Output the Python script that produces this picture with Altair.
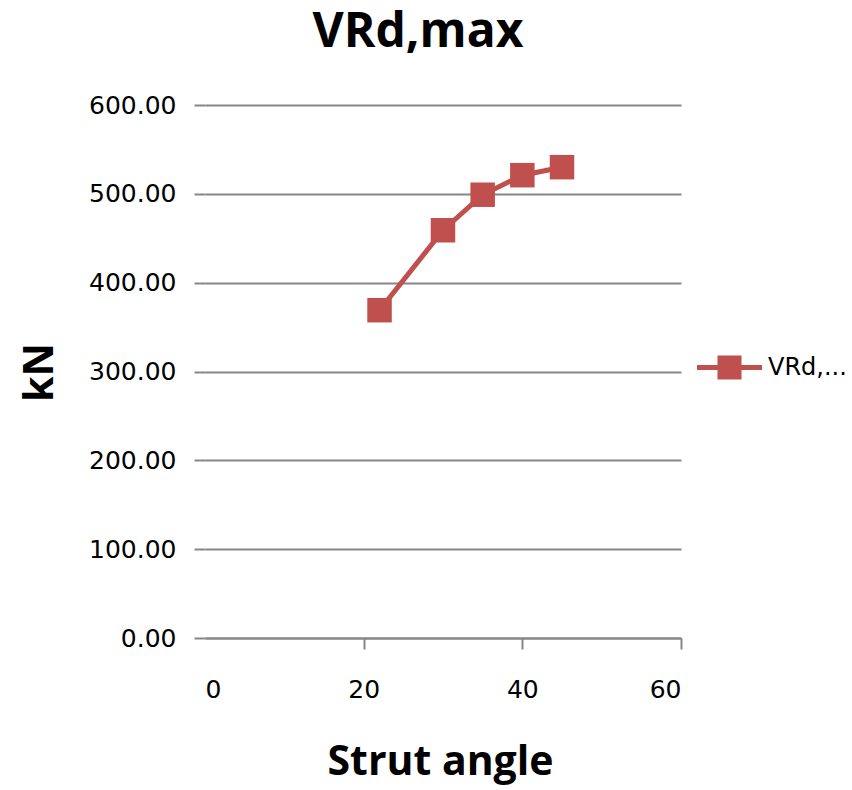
import altair as alt
import pandas as pd

strut_angle = [22, 30, 35, 40, 45]
vrd_max = [369, 459, 499, 521, 530]
series_name = "VRd,max"
x_ticks = [0, 20, 40, 60]
y_ticks = [0, 100, 200, 300, 400, 500, 600]

df = pd.DataFrame({"angle": strut_angle, "kN": vrd_max, "series": [series_name] * len(strut_angle)})

RED = "#C0504D"
GRID = "#868686"
LABEL_FONT = "DejaVu Sans"
BOLD_FONT = "Open Sans"

x_enc = alt.X(
    "angle:Q",
    scale=alt.Scale(domain=[0, 60], nice=False, zero=False),
    axis=alt.Axis(
        values=x_ticks, format="d", grid=False, domain=True, domainColor=GRID, domainWidth=2,
        ticks=True, tickWidth=2, tickSize=11,
        tickColor={"condition": {"test": "datum.value == 0", "value": "transparent"}, "value": GRID},
        labelFont=LABEL_FONT, labelFontSize=25, labelColor="#000", labelPadding=28,
        title="Strut angle", titleFont=BOLD_FONT, titleFontWeight="bold", titleFontSize=41,
        titleColor="#000", titleBaseline="alphabetic", titleX=235, titleY=136, titleAlign="center",
    ),
)
y_enc = alt.Y(
    "kN:Q",
    scale=alt.Scale(domain=[0, 600], nice=False),
    axis=alt.Axis(
        values=y_ticks, format=".2f", grid=True, gridColor=GRID, gridWidth=2, domain=False,
        ticks=True, tickColor=GRID, tickWidth=2, tickSize=11,
        labelFont=LABEL_FONT, labelFontSize=25, labelColor="#000", labelPadding=18,
        title="kN", titleFont=BOLD_FONT, titleFontWeight="bold", titleFontSize=41,
        titleColor="#000", titleAngle=270, titleBaseline="alphabetic", titleAlign="center",
        titleX=-153, titleY=267,
    ),
)

line = alt.Chart(df).mark_line(color=RED, strokeWidth=5).encode(x=x_enc, y=y_enc)

legend_path = "M-1,-0.08H1V0.08H-1Z M-0.37,-0.37H0.37V0.37H-0.37Z"
points = alt.Chart(df).mark_point(shape="square", filled=True, size=600, opacity=1).encode(
    x=x_enc,
    y=y_enc,
    color=alt.Color(
        "series:N",
        scale=alt.Scale(range=[RED]),
        legend=alt.Legend(
            title=None, orient="none", legendX=492, legendY=230, padding=0,
            symbolType=legend_path, symbolSize=4225, symbolStrokeWidth=0, symbolOpacity=1,
            labelFont=LABEL_FONT, labelFontSize=24, labelColor="#000", labelOffset=6,
            labelExpr="'VRd,...'",
        ),
    ),
)

chart = (
    alt.layer(line, points)
    .properties(
        width=476,
        height=533,
        background="white",
        title=alt.TitleParams(
            "VRd,max", font=BOLD_FONT, fontWeight="bold", fontSize=48, color="#000",
            anchor="middle", dx=-25, offset=-2, baseline="alphabetic",
        ),
        padding={"left": 205, "top": 105, "right": 171, "bottom": 152},
        autosize=alt.AutoSizeParams(type="none"),
    )
    .configure_view(stroke="transparent", strokeWidth=0)
)

chart.save("out.html", embed_options={"renderer": "svg", "actions": False})
